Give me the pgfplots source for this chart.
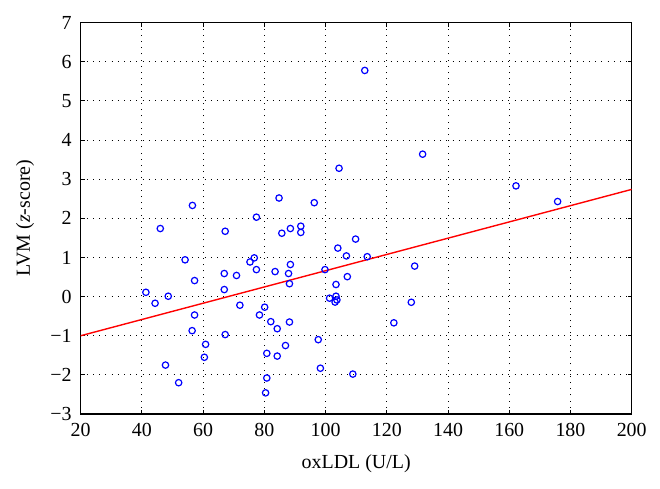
\documentclass[border=0pt]{standalone}
\usepackage{pgfplots}
\pgfplotsset{compat=1.18}
\usepackage{fontspec}
\setmainfont{Liberation Serif}
\begin{document}
\begin{tikzpicture}[x=1bp,y=1bp]
\path (0,0) rectangle (330,244.5);
\begin{axis}[
  at={(40.35bp,37.5bp)}, anchor=south west,
  scale only axis, width=275.5bp, height=195.65bp,
  xmin=20, xmax=200, ymin=-3, ymax=7,
  xtick={20,40,...,200}, ytick={-3,-2,...,7},
  yticklabels={−3,−2,−1,0,1,2,3,4,5,6,7},
  tick align=inside, major tick length=2bp,
  xtick pos=both, ytick pos=both,
  grid=major,
  major grid style={black, line width=0.5bp, dash pattern=on 0.5bp off 2.6bp},
  axis line style={black, line width=0.6bp},
  every tick/.style={black, line width=0.5bp},
  tick label style={font=\fontsize{10}{12}\selectfont},
  yticklabel style={xshift=-1bp},
  xticklabel style={yshift=-1bp},
  label style={font=\fontsize{10}{12}\selectfont},
  /pgf/number format/assume math mode=true,
  xlabel={oxLDL (U/L)}, ylabel={LVM (\textit{z}-score)},
  xlabel style={at={(axis description cs:0.5,0)}, anchor=center, yshift=-25bp},
  ylabel style={at={(axis description cs:0,0.5)}, anchor=center, rotate=0, yshift=27.8bp},
]
\addplot[red, line width=0.7bp] coordinates {(20,-1.0) (200,2.74)};
\addplot[only marks, mark=o, mark size=1.6bp, blue, mark options={line width=0.6bp}] coordinates {
(46.0,1.74) (67.2,1.67) (77.4,2.03) (85.7,1.62) (88.5,1.74) (91.9,1.80) (91.9,1.64)
(109.8,1.47) (104.0,1.24) (106.8,1.04) (113.6,1.02) (54.1,0.94) (76.7,0.99) (75.3,0.885)
(88.5,0.82) (77.4,0.69) (99.8,0.69) (83.5,0.64) (66.9,0.59) (87.9,0.59) (70.9,0.54)
(107.1,0.51) (57.2,0.41) (88.2,0.33) (103.4,0.31) (41.3,0.11) (66.9,0.18) (48.6,0.01)
(44.3,-0.17) (101.3,-0.04) (103.4,0.01) (103.7,-0.085) (103.1,-0.14) (72.0,-0.22)
(80.1,-0.27) (57.2,-0.47) (78.4,-0.47) (82.1,-0.64) (88.2,-0.65) (84.2,-0.82) (56.4,-0.87)
(67.2,-0.97) (97.6,-1.10) (60.8,-1.22) (86.9,-1.25) (80.8,-1.45) (84.2,-1.52) (60.4,-1.55)
(47.7,-1.75) (98.3,-1.83) (108.9,-1.98) (80.8,-2.08) (52.0,-2.20) (80.4,-2.46)
(112.8,5.78) (104.4,3.28) (84.8,2.52) (56.5,2.33) (96.3,2.40)
(131.7,3.64) (162.2,2.83) (175.8,2.43)
(129.1,0.78) (128.0,-0.145) (122.3,-0.67)
};
\end{axis}
\end{tikzpicture}
\end{document}
